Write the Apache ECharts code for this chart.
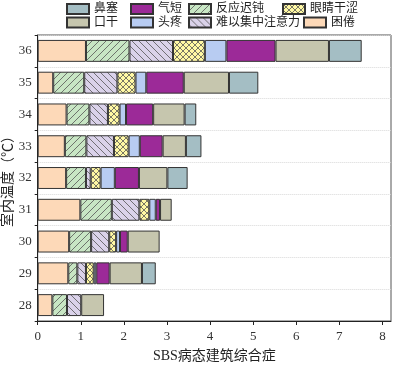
<!DOCTYPE html>
<html><head><meta charset="utf-8">
<script src="https://cdn.jsdelivr.net/npm/echarts@6/dist/echarts.min.js"></script>
<style>html,body{margin:0;padding:0;background:#fff}#c{width:394px;height:365px}</style>
</head><body><div id="c"></div>
<script>
const categories = ['28','29','30','31','32','33','34','35','36'];
const kunjuan   = [0.34,0.71,0.73,0.99,0.66,0.63,0.67,0.36,1.12]; // 困倦
const fanying   = [0.34,0.21,0.51,0.73,0.46,0.50,0.53,0.72,1.01]; // 反应迟钝
const zhuyili   = [0.33,0.20,0.42,0.64,0.11,0.64,0.43,0.77,1.01]; // 难以集中注意力
const yanjing   = [0,   0.18,0.16,0.23,0.23,0.34,0.27,0.42,0.74]; // 眼睛干涩
const touteng   = [0,   0.06,0.09,0.15,0.33,0.26,0.15,0.25,0.50]; // 头疼
const qiduan    = [0,   0.31,0.18,0.10,0.56,0.53,0.63,0.87,1.14]; // 气短
const kougan    = [0.53,0.75,0.74,0.27,0.66,0.54,0.73,1.05,1.24]; // 口干
const bise      = [0,   0.32,0,   0,   0.47,0.36,0.27,0.68,0.76]; // 鼻塞
const xTicks = [0,1,2,3,4,5,6,7,8];

function pat(bg, kind, s) {
  const c = document.createElement('canvas');
  c.width = c.height = s;
  const g = c.getContext('2d');
  g.fillStyle = bg; g.fillRect(0,0,s,s);
  g.strokeStyle = '#555'; g.lineWidth = 0.8;
  g.beginPath();
  if (kind === '/' || kind === 'x') {
    g.moveTo(0,s); g.lineTo(s,0);
    g.moveTo(-1,1); g.lineTo(1,-1);
    g.moveTo(s-1,s+1); g.lineTo(s+1,s-1);
  }
  if (kind === '\\' || kind === 'x') {
    g.moveTo(0,0); g.lineTo(s,s);
    g.moveTo(s-1,-1); g.lineTo(s+1,1);
    g.moveTo(-1,s-1); g.lineTo(1,s+1);
  }
  g.stroke();
  return {image: c, repeat: 'repeat'};
}

const seriesDefs = [
  {name:'困倦', data:kunjuan, color:'#FDD9B8'},
  {name:'反应迟钝', data:fanying, color:pat('#C8E6C4','/',7)},
  {name:'难以集中注意力', data:zhuyili, color:pat('#DAD2EA','\\',7)},
  {name:'眼睛干涩', data:yanjing, color:pat('#FFF8A4','x',6)},
  {name:'头疼', data:touteng, color:'#B8CCF2'},
  {name:'气短', data:qiduan, color:'#9C2A98'},
  {name:'口干', data:kougan, color:'#C6C6AE'},
  {name:'鼻塞', data:bise, color:'#A4BEC4'}
];

const FONT = "'Liberation Serif', 'Noto Sans CJK SC', serif";

const legendPos = {
  '鼻塞':[66,3], '口干':[66,16.5],
  '气短':[130,3], '头疼':[130,16.5],
  '反应迟钝':[188,3], '难以集中注意力':[188,16.5],
  '眼睛干涩':[282,3], '困倦':[303,16.5]
};
const legends = Object.keys(legendPos).map(n => ({
  data:[n], left: legendPos[n][0], top: legendPos[n][1], padding:0,
  icon:'rect', itemWidth:22, itemHeight:10, itemGap:0, itemTextGap:6, selectedMode:false,
  textStyle:{fontFamily:FONT, fontSize:12, color:'#222'}
}));

const chart = echarts.init(document.getElementById('c'), null, {renderer:'canvas'});
chart.setOption({
  animation:false,
  backgroundColor:'#fff',
  legend: legends,
  grid:{left:37.7, right:3, top:35, bottom:44, show:true, borderColor:'#555', borderWidth:1,
        containLabel:false, outerBoundsMode:'none'},
  xAxis:{
    type:'value', min:0, max:8.2, interval:1,
    name:'SBS病态建筑综合症', nameLocation:'middle', nameGap:28, nameMoveOverlap:false,
    nameTextStyle:{fontFamily:FONT, fontSize:14, color:'#222'},
    axisLine:{show:true, lineStyle:{color:'#222'}},
    axisTick:{show:true, length:4, lineStyle:{color:'#222'}},
    axisLabel:{fontFamily:FONT, fontSize:13, color:'#333', margin:9, showMaxLabel:false,
      formatter: v => xTicks.indexOf(v) >= 0 ? String(v) : ''},
    splitLine:{show:false}
  },
  yAxis:{
    type:'category', data:categories,
    name:'室内温度（℃）', nameLocation:'middle', nameGap:22, nameMoveOverlap:false,
    nameTextStyle:{fontFamily:FONT, fontSize:14, color:'#222'},
    axisLine:{show:true, lineStyle:{color:'#222'}},
    axisTick:{show:true, length:3, lineStyle:{color:'#222'}},
    axisLabel:{fontFamily:FONT, fontSize:13, color:'#333', margin:6},
    splitLine:{show:true, lineStyle:{type:'dotted', color:'#d8d8d8'}}
  },
  series: seriesDefs.map(s => ({
    name:s.name, type:'bar', stack:'sbs', barWidth:'69%',
    data: s.data.map(v => v === 0 ? '-' : v),
    itemStyle:{color:s.color, borderColor:'#333', borderWidth:1}
  }))
});
</script></body></html>
